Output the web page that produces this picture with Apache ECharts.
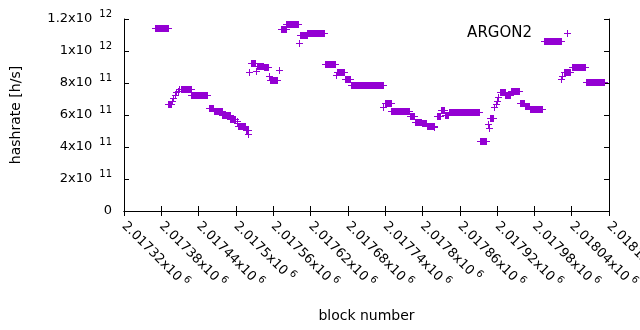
<!DOCTYPE html>
<html>
<head>
<meta charset="utf-8">
<title>ARGON2 hashrate</title>
<script src="https://cdn.jsdelivr.net/npm/echarts@6/dist/echarts.min.js"></script>
<style>
html, body { margin: 0; padding: 0; background: #fff; }
#chart { width: 640px; height: 330px; }
</style>
</head>
<body>
<div id="chart"></div>
<script>
// hashrate estimate per block, written as runs of blocks with the same value
// (a single block has from == to)
var blockFrom = [
    2017370, 2017391, 2017397, 2017399, 2017402, 2017404, 2017407, 2017409, 2017411, 2017428,
    2017457, 2017465, 2017478, 2017491, 2017501, 2017502, 2017504, 2017516, 2017520, 2017521,
    2017524, 2017533, 2017534, 2017545, 2017553, 2017555, 2017570, 2017572, 2017581, 2017602,
    2017603, 2017615, 2017643, 2017661, 2017662, 2017675, 2017685, 2017737, 2017739, 2017750,
    2017780, 2017788, 2017799, 2017807, 2017819, 2017823, 2017830, 2017836, 2017842, 2017893,
    2017905, 2017907, 2017908, 2017915, 2017918, 2017920, 2017922, 2017925, 2017933, 2017942,
    2017957, 2017965, 2017973, 2017995, 2018023, 2018025, 2018027, 2018029, 2018040, 2018063
];
var blockTo = [
    2017390, 2017395, 2017397, 2017399, 2017402, 2017404, 2017407, 2017409, 2017427, 2017454,
    2017463, 2017477, 2017490, 2017499, 2017501, 2017502, 2017514, 2017519, 2017520, 2017521,
    2017531, 2017533, 2017544, 2017551, 2017553, 2017566, 2017570, 2017580, 2017600, 2017602,
    2017614, 2017642, 2017660, 2017661, 2017674, 2017683, 2017736, 2017737, 2017749, 2017778,
    2017786, 2017798, 2017806, 2017818, 2017819, 2017829, 2017835, 2017841, 2017891, 2017902,
    2017905, 2017907, 2017913, 2017915, 2017918, 2017920, 2017922, 2017932, 2017940, 2017956,
    2017964, 2017972, 2017993, 2018022, 2018023, 2018025, 2018027, 2018038, 2018061, 2018092
];
var hashrate = [
    11.45e11, 6.68e11, 6.89e11, 7.08e11, 7.26e11, 7.42e11, 7.51e11, 7.60e11, 7.62e11, 7.24e11,
    6.43e11, 6.24e11, 5.99e11, 5.76e11, 5.60e11, 5.50e11, 5.30e11, 5.05e11, 4.82e11, 8.70e11,
    9.24e11, 8.75e11, 9.08e11, 8.99e11, 8.45e11, 8.20e11, 8.83e11, 11.39e11, 11.69e11, 10.48e11,
    11.01e11, 11.14e11, 9.19e11, 8.50e11, 8.66e11, 8.25e11, 7.87e11, 6.50e11, 6.74e11, 6.24e11,
    5.94e11, 5.58e11, 5.48e11, 5.34e11, 5.22e11, 5.93e11, 6.30e11, 6.02e11, 6.16e11, 4.35e11,
    5.45e11, 5.20e11, 5.80e11, 6.49e11, 6.70e11, 6.90e11, 7.12e11, 7.45e11, 7.27e11, 7.50e11,
    6.74e11, 6.59e11, 6.37e11, 10.63e11, 8.22e11, 8.43e11, 8.70e11, 8.70e11, 8.98e11, 8.05e11
];

var xMin = 2017320, xMax = 2018100, xStep = 60;
var yMin = 0, yMax = 1.2e12, yStep = 2e11;

var COLOR = '#9400d3';
var FONT = 'DejaVu Sans';

var runs = blockFrom.map(function(b, i) {
    return [b, blockTo[i], hashrate[i]];
});

// gnuplot style "mantissa x10^exp" tick labels
function sciLabel(v, exp) {
    if (v === 0) return '0';
    if (exp == null) exp = Math.floor(Math.log10(v) + 1e-9);
    var m = +(v / Math.pow(10, exp)).toFixed(5);
    return '{m|' + m + 'x10}{s|' + exp + '}';
}

function richStyle(gap) {
    return {
        m: { fontFamily: FONT, fontSize: 13, color: '#000', lineHeight: 20 },
        s: { fontFamily: FONT, fontSize: 10, color: '#000', lineHeight: 10, verticalAlign: 'top', padding: [0, 0, 0, gap] }
    };
}

// each run = a row of '+' marks, which overlap into a filled bar
function renderRun(params, api) {
    var a = api.coord([api.value(0), api.value(2)]);
    var b = api.coord([api.value(1), api.value(2)]);
    var y = Math.round(a[1]);
    var x0 = Math.round(a[0]);
    var x1 = Math.round(b[0]);
    var st = { fill: COLOR };
    return {
        type: 'group',
        children: [
            { type: 'rect', shape: { x: x0, y: y - 3, width: x1 - x0 + 1, height: 7 }, style: st },
            { type: 'rect', shape: { x: x0 - 3, y: y, width: x1 - x0 + 7, height: 1 }, style: st }
        ]
    };
}

var axisLine = { lineStyle: { color: '#000', width: 1 } };
var tick = { inside: true, length: 5, lineStyle: { color: '#000' } };

var chart = echarts.init(document.getElementById('chart'), null, { renderer: 'canvas' });
chart.setOption({
    animation: false,
    backgroundColor: '#fff',
    grid: { left: 124, right: 31, top: 19, bottom: 119, outerBoundsMode: 'none' },
    legend: {
        right: 64,
        top: 21,
        align: 'right',
        itemWidth: 7,
        itemHeight: 7,
        textStyle: { fontFamily: FONT, fontSize: 15, color: '#000', padding: [0, 27, 0, 0] },
        data: [{ name: 'ARGON2', icon: 'path://M0,3L3,3L3,0L4,0L4,3L7,3L7,4L4,4L4,7L3,7L3,4L0,4Z' }]
    },
    xAxis: [{
        type: 'value',
        min: xMin, max: xMax, interval: xStep,
        name: 'block number',
        nameLocation: 'middle',
        nameGap: 98,
        nameTextStyle: { fontFamily: FONT, fontSize: 14, color: '#000' },
        axisLine: axisLine,
        axisTick: tick,
        splitLine: { show: false },
        axisLabel: {
            rotate: -45,
            margin: 13,
            interval: 0,
            showMinLabel: true,
            showMaxLabel: true,
            hideOverlap: false,
            formatter: function(v) { return sciLabel(v, 6); },
            rich: richStyle(3)
        }
    }, {
        type: 'value', position: 'top',
        min: xMin, max: xMax, interval: xStep,
        axisLine: axisLine, axisTick: tick,
        axisLabel: { show: false }, splitLine: { show: false }
    }],
    yAxis: [{
        type: 'value',
        min: yMin, max: yMax, interval: yStep,
        name: 'hashrate [h/s]',
        nameLocation: 'middle',
        nameGap: 101,
        nameTextStyle: { fontFamily: FONT, fontSize: 14, color: '#000' },
        axisLine: { show: true, lineStyle: { color: '#000', width: 1 } },
        axisTick: tick,
        splitLine: { show: false },
        axisLabel: {
            margin: 12,
            formatter: function(v) { return sciLabel(v); },
            fontFamily: FONT, fontSize: 13, color: '#000',
            rich: richStyle(7)
        }
    }, {
        type: 'value', position: 'right',
        min: yMin, max: yMax, interval: yStep,
        axisLine: { show: true, lineStyle: { color: '#000', width: 1 } },
        axisTick: tick,
        axisLabel: { show: false }, splitLine: { show: false }
    }],
    series: [{
        name: 'ARGON2',
        type: 'custom',
        itemStyle: { color: COLOR },
        renderItem: renderRun,
        encode: { x: [0, 1], y: 2 },
        data: runs
    }]
});
</script>
</body>
</html>
